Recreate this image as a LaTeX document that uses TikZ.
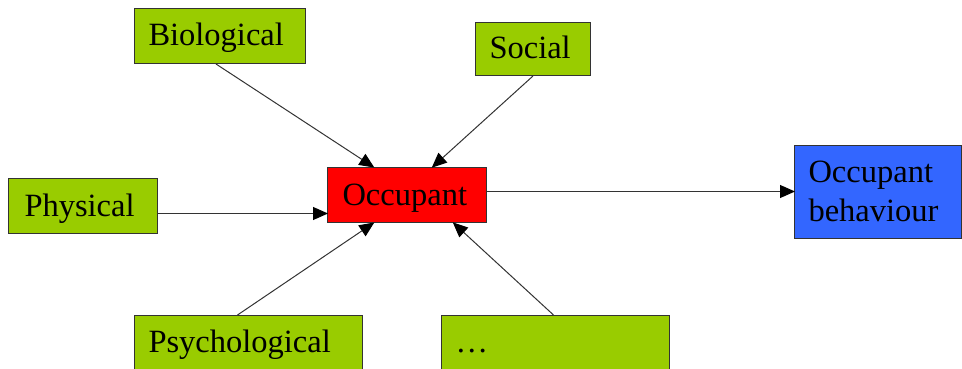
\documentclass[tikz,border=0pt]{standalone}
\usepackage{fontspec}
\setmainfont{Liberation Serif}
\usetikzlibrary{arrows.meta}
\definecolor{fgreen}{HTML}{99CC00}
\definecolor{fred}{HTML}{FF0000}
\definecolor{fblue}{HTML}{3366FF}
\definecolor{edge}{HTML}{333333}
\begin{document}
\begin{tikzpicture}[x=1pt,y=-1pt,
  box/.style={draw=edge, line width=1pt, anchor=north west, inner ysep=0pt, inner xsep=14pt,
    align=left, font=\fontsize{32.5}{39}\selectfont, text height=26pt, text depth=6pt},
  gbox/.style={box, fill=fgreen},
  arr/.style={draw=edge, line width=1pt, -{Triangle[length=15pt,width=13pt,color=black]}, shorten >=-1pt}]
\useasboundingbox (0,0) rectangle (962,369);
\node[gbox, minimum width=171pt, minimum height=55pt, text width=143pt] (bio) at (134,8) {Biological};
\node[gbox, minimum width=115pt, minimum height=53pt, text width=87pt] (soc) at (475,22) {Social};
\node[gbox, minimum width=149pt, minimum height=55pt, text width=121pt, inner xsep=16pt, text width=117pt] (phy) at (8,178) {Physical};
\node[box, fill=fred, minimum width=159pt, minimum height=55pt, text width=129pt, inner xsep=15pt] (occ) at (327,167) {Occupant};
\node[box, fill=fblue, minimum width=167pt, minimum height=93pt, text width=139pt, text depth=45pt] (beh) at (794,145) {Occupant\\behaviour};
\node[gbox, minimum width=228pt, minimum height=54pt, text width=200pt] (psy) at (134,315) {Psychological};
\node[gbox, minimum width=228pt, minimum height=54pt, text width=200pt] (etc) at (441,315) {\dots};
\draw[arr] ([xshift=-4pt]bio.south) -- ([xshift=-33.5pt]occ.north);
\draw[arr] (soc.south) -- ([xshift=25.5pt]occ.north);
\draw[arr] ([yshift=-7.5pt]phy.east) -- ([yshift=-18.5pt]occ.west);
\draw[arr] ([xshift=-11pt]psy.north) -- ([xshift=-33.5pt]occ.south);
\draw[arr] ([xshift=-2pt]etc.north) -- ([xshift=46.5pt]occ.south);
\draw[arr] ([yshift=3.5pt]occ.east) -- ([yshift=0.5pt]beh.west);
\end{tikzpicture}
\end{document}
